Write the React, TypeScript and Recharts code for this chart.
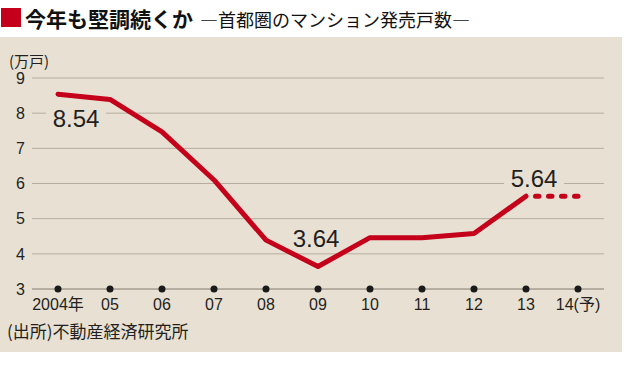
import React from 'react';
import { LineChart, Line, XAxis, YAxis, CartesianGrid, LabelList } from 'recharts';

const years = ['2004年', '05', '06', '07', '08', '09', '10', '11', '12', '13', '14(予)'];
const sales = [8.54, 8.39, 7.47, 6.1, 4.39, 3.64, 4.46, 4.46, 4.58, 5.64, null];
const forecast = [null, null, null, null, null, null, null, null, null, 5.64, 5.64];
const yTicks = [3, 4, 5, 6, 7, 8, 9];
const labeledYears = ['2004年', '09', '13'];

const RED = '#c4001a';
const BEIGE = '#e8e1d3';
const GRID = '#b5ad9f';
const INK = '#231f20';
const NUM_FONT = '"Liberation Sans", "Noto Sans CJK JP", sans-serif';
const JP_FONT = '"Noto Sans CJK JP", sans-serif';

const data = years.map((year, i) => ({ year, sales: sales[i], forecast: forecast[i] }));

// where each value label sits relative to its point
const labelOffset: Record<string, [number, number]> = {
  '2004年': [18, 24],
  '09': [-2, -28],
  '13': [8, -18],
};

const ValueLabel = (props: any) => {
  const { x, y, index, value } = props;
  const year = years[index];
  if (!labeledYears.includes(year) || value == null) return null;
  const [dx, dy] = labelOffset[year];
  const cx = x + dx;
  const cy = y + dy;
  return (
    <g>
      <rect x={cx - 30} y={cy - 9} width={60} height={18} fill={BEIGE} />
      <text x={cx} y={cy} dy="0.36em" textAnchor="middle" fontSize={24} fill={INK} fontFamily={NUM_FONT}>
        {Number(value).toFixed(2)}
      </text>
    </g>
  );
};

const YearTick = (props: any) => {
  const { x, y, payload } = props;
  return (
    <g>
      <circle cx={x} cy={y} r={3.5} fill="#1a1a1a" />
      <text x={x} y={y + 21} textAnchor="middle" fontSize={16} fill={INK} fontFamily={NUM_FONT}>
        {payload.value}
      </text>
    </g>
  );
};

export default function App() {
  return (
    <div style={{ position: 'absolute', left: 0, top: 0, width: 631, height: 365, background: '#fff', overflow: 'hidden' }}>
      {/* title strip */}
      <div style={{ position: 'absolute', left: 1, top: 8, width: 20, height: 19, background: RED }} />
      <div style={{ position: 'absolute', left: 25, top: 3, fontFamily: JP_FONT, fontWeight: 700, fontSize: 21, lineHeight: '30px', color: '#111', whiteSpace: 'nowrap' }}>
        今年も堅調続くか
      </div>
      <div style={{ position: 'absolute', left: 200, top: 4, fontFamily: JP_FONT, fontSize: 18, lineHeight: '30px', color: '#111', whiteSpace: 'nowrap' }}>
        ―首都圏のマンション発売戸数―
      </div>

      {/* beige panel */}
      <div style={{ position: 'absolute', left: 0, top: 37, width: 622, height: 315, background: BEIGE }} />
      <div style={{ position: 'absolute', left: 9, top: 51, fontFamily: JP_FONT, fontSize: 15, lineHeight: '20px', color: INK }}>
        (万戸)
      </div>
      <div style={{ position: 'absolute', left: 7, top: 320, fontFamily: JP_FONT, fontSize: 17, lineHeight: '22px', color: INK, whiteSpace: 'nowrap' }}>
        (出所)不動産経済研究所
      </div>

      <div style={{ position: 'absolute', left: 0, top: 0 }}>
        <LineChart width={631} height={365} data={data} margin={{ top: 78, right: 27, bottom: 46, left: 0 }}>
          <CartesianGrid horizontal vertical={false} stroke={GRID} strokeWidth={1} />
          <XAxis
            dataKey="year"
            interval={0}
            height={30}
            padding={{ left: 26, right: 26 }}
            axisLine={{ stroke: '#9c9588', strokeWidth: 1 }}
            tickLine={false}
            tickSize={0}
            tickMargin={0}
            tick={<YearTick />}
          />
          <YAxis
            domain={[3, 9]}
            ticks={yTicks}
            interval={0}
            width={32}
            axisLine={false}
            tickLine={false}
            tickSize={0}
            tickMargin={7}
            tick={{ fontSize: 16, fill: INK, fontFamily: NUM_FONT }}
          />
          <Line
            dataKey="forecast"
            stroke={RED}
            strokeWidth={5}
            strokeLinecap="round"
            strokeDasharray="3.5 9.5"
            strokeDashoffset={3.5}
            dot={false}
            activeDot={false}
            isAnimationActive={false}
          />
          <Line
            dataKey="sales"
            type="linear"
            stroke={RED}
            strokeWidth={5}
            strokeLinejoin="round"
            strokeLinecap="round"
            dot={false}
            activeDot={false}
            isAnimationActive={false}
          >
            <LabelList dataKey="sales" content={<ValueLabel />} />
          </Line>
        </LineChart>
      </div>
    </div>
  );
}
